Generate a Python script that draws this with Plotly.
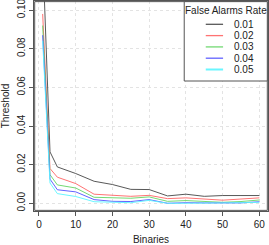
import plotly.graph_objects as go

binaries = [1, 3, 5, 10, 15, 20, 25, 30, 35, 40, 45, 50, 55, 60]
rates = ["0.01", "0.02", "0.03", "0.04", "0.05"]
thr_001 = [0.13, 0.0266, 0.0188, 0.0154, 0.0114, 0.0097, 0.0072, 0.0071, 0.0038, 0.0047, 0.0036, 0.0040, 0.0040, 0.0040]
thr_002 = [0.098, 0.0180, 0.0135, 0.0102, 0.0047, 0.0041, 0.0036, 0.0041, 0.0024, 0.0028, 0.0022, 0.0016, 0.0022, 0.0028]
thr_003 = [0.092, 0.0148, 0.0095, 0.0079, 0.0031, 0.0029, 0.0026, 0.0033, 0.0010, 0.0014, 0.0010, 0.0005, 0.0009, 0.0017]
thr_004 = [0.087, 0.0125, 0.0070, 0.0059, 0.0019, 0.0010, 0.0009, 0.0019, 0.0000, 0.0003, 0.0002, 0.0002, 0.0002, 0.0008]
thr_005 = [0.084, 0.0105, 0.0050, 0.0035, 0.0008, 0.0005, 0.0003, 0.0015, 0.0000, 0.0000, 0.0000, 0.0003, 0.0003, 0.0005]
series = [thr_001, thr_002, thr_003, thr_004, thr_005]
colors = ["rgba(70,70,70,0.9)", "rgba(255,90,90,0.85)", "rgba(90,210,90,0.85)",
          "rgba(70,70,255,0.85)", "rgba(90,245,255,0.9)"]

x_ticks = [0, 10, 20, 30, 40, 50, 60]
y_ticks = [0.00, 0.02, 0.04, 0.06, 0.08, 0.10]
y_ticktext = ["0.00", "0.02", "0.04", "0.06", "0.08", "0.10"]

X_RANGE = [-1.36, 62.36]
Y_RANGE = [-0.004, 0.1047]
FONT = "Liberation Sans, Arial, sans-serif"


def fx(f):
    return X_RANGE[0] + f * (X_RANGE[1] - X_RANGE[0])


def fy(f):
    return Y_RANGE[0] + f * (Y_RANGE[1] - Y_RANGE[0])


fig = go.Figure()
for vals, col, name in zip(series, colors, rates):
    fig.add_trace(go.Scatter(x=binaries, y=vals, mode="lines", name=name,
                             line=dict(color=col, width=1), showlegend=False))

# plot box
fig.add_shape(type="rect", xref="x", yref="y", x0=fx(0.003), x1=fx(0.997), y0=fy(0.003), y1=fy(0.997),
              line=dict(color="#555", width=1), fillcolor="rgba(0,0,0,0)", layer="above")

# manual legend (R-style)
fig.add_shape(type="rect", xref="x", yref="y", x0=fx(0.642), x1=fx(0.997), y0=fy(0.619), y1=fy(0.997),
              line=dict(color="#555", width=1), fillcolor="white", layer="above")
fig.add_annotation(xref="x", yref="y", x=fx(0.819), y=fy(0.957), text="False Alarms Rate",
                   showarrow=False, font=dict(size=10, color="#222", family=FONT))
row_y0, row_step = 0.889, 0.0538
for i, (name, col) in enumerate(zip(rates, colors)):
    yy = fy(row_y0 - i * row_step)
    fig.add_shape(type="line", xref="x", yref="y", x0=fx(0.734), x1=fx(0.808), y0=yy, y1=yy,
                  line=dict(color=col, width=1.3 if i < 4 else 2), layer="above")
    fig.add_annotation(xref="x", yref="y", x=fx(0.845), y=yy, text=name, xanchor="left",
                       showarrow=False, font=dict(size=10, color="#222", family=FONT))

fig.update_layout(
    width=269, height=245,
    margin=dict(l=34, r=1, t=1, b=34, autoexpand=False),
    paper_bgcolor="white", plot_bgcolor="white",
    font=dict(family=FONT, size=10, color="#222"),
)
fig.update_xaxes(range=X_RANGE, tickvals=x_ticks, ticks="outside", ticklen=4,
                 tickcolor="#555", showline=True, linecolor="#555", linewidth=1, mirror=True,
                 automargin=False, ticklabeloverflow="allow",
                 showgrid=True, gridcolor="#e3e3e3", griddash="dot", zeroline=False,
                 title=dict(text="Binaries", standoff=6, font=dict(size=10)),
                 tickfont=dict(size=10))
fig.update_yaxes(range=Y_RANGE, tickvals=y_ticks, ticktext=y_ticktext, tickangle=-90,
                 ticks="outside", ticklen=4, tickcolor="#555", showline=True, linecolor="#555",
                 linewidth=1, mirror=True, automargin=False, ticklabeloverflow="allow",
                 showgrid=True, gridcolor="#e3e3e3", griddash="dot",
                 zeroline=False, title=dict(text="Threshold", standoff=4, font=dict(size=10)),
                 tickfont=dict(size=10))

fig.write_html("out.html", config={"displayModeBar": False},
               post_script="document.body.style.margin='0';document.body.style.overflow='hidden';")
